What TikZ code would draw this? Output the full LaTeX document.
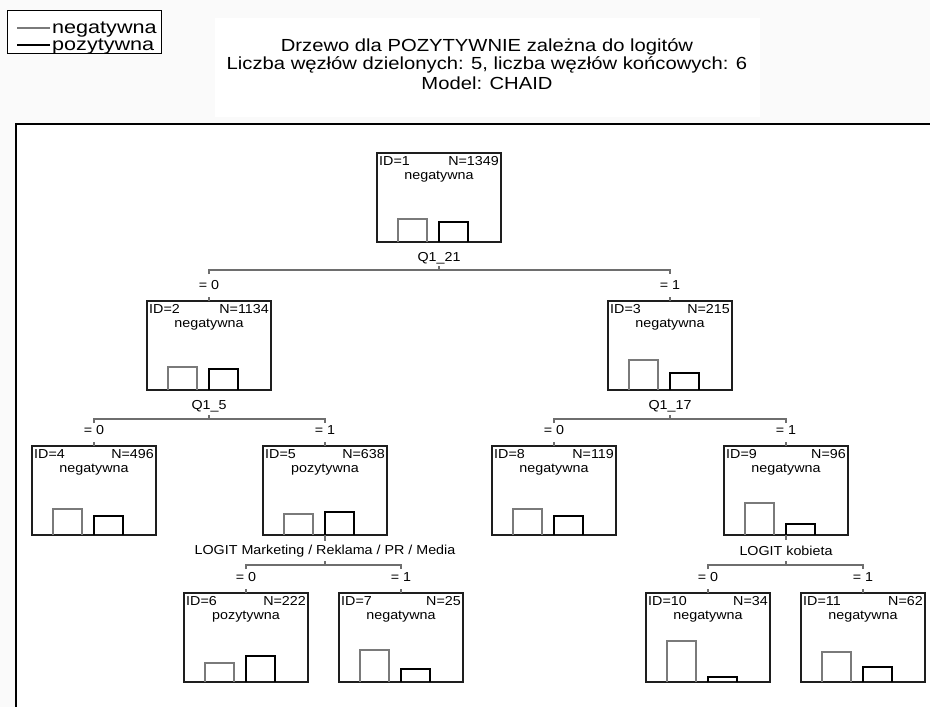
\documentclass[tikz,border=0pt]{standalone}
\usepackage{fontspec}
\setmainfont{Liberation Sans}
\usetikzlibrary{calc}

\definecolor{pagebg}{HTML}{FAFAFA}
\definecolor{boxline}{HTML}{1E1E1E}
\definecolor{splitline}{HTML}{6E6E6E}
\definecolor{negbar}{HTML}{7A7A7A}

% horizontally widened text
\newcommand\widetxt[2]{\scalebox{#1}[1]{#2}}
\newcommand\nt[1]{\widetxt{1.1}{#1}}

\tikzset{
  treebox/.style={draw=boxline, line width=1.8pt, fill=white,
    minimum width=124pt, minimum height=89pt, anchor=north west,
    inner sep=0pt, outer sep=0pt},
  txt/.style={font=\fontsize{13}{15}\selectfont, inner sep=0pt},
  split/.style={draw=splitline, line width=1.4pt},
  negline/.style={draw=negbar, line width=1.5pt},
  posline/.style={draw=black, line width=1.9pt},
  legtxt/.style={font=\fontsize{18}{20}\selectfont, anchor=base west, inner sep=0pt},
  titletxt/.style={font=\fontsize{17.5}{19}\selectfont, inner sep=0pt},
}

% tree node: name, left, top, id, n, class, negative bar height, positive bar height
\newcommand\tnode[8]{%
  \node[treebox] (#1) at (#2,#3) {};
  \node[txt, anchor=west] (#1id) at ($(#1.north west)+(2,8)$) {\nt{ID=#4}};
  \node[txt, anchor=east] (#1n) at ($(#1.north east)+(-2,8)$) {\nt{N=#5}};
  \node[txt] (#1cl) at ($(#1.north)+(0,24)$) {\nt{#6}};
  \draw[negline] ($(#1.south west)+(21,0)$) -- ++(0,-#7) -- ++(29,0) -- ++(0,#7);
  \draw[posline] ($(#1.south west)+(62,0)$) -- ++(0,-#8) -- ++(29,0) -- ++(0,#8);
}

% split: parent, left child, right child, split label, split line offset below parent
\newcommand\tsplit[5]{%
  \node[txt] (#1lab) at ($(#1.south)+(0,16)$) {\nt{#4}};
  \coordinate (#1j) at ($(#1.south)+(0,#5)$);
  \draw[split] (#1j) -- ++(0,-4);
  \draw[split] ($(#2.north |- #1j)+(0,4)$) -- (#2.north |- #1j)
    -- (#3.north |- #1j) -- ++(0,4);
  \node[txt] (#2eq) at ($(#2.north)+(0,-16)$) {\nt{= 0}};
  \node[txt] (#3eq) at ($(#3.north)+(0,-16)$) {\nt{= 1}};
  \draw[split] (#2.north) -- ++(0,-4);
  \draw[split] (#3.north) -- ++(0,-4);
}

\begin{document}
\begin{tikzpicture}[x=1pt, y=-1pt]
  \useasboundingbox (0,0) rectangle (930,707);
  \fill[pagebg] (0,0) rectangle (930,707);
  \fill[white] (16,124) rectangle (930,707);

  % legend
  \node[draw=black, line width=1.2pt, fill=white, minimum width=154pt,
    minimum height=43pt, anchor=north west, inner sep=0pt] (legend) at (7,10) {};
  \node[legtxt] (legneg) at (52,33) {\widetxt{1.2}{negatywna}};
  \node[legtxt] (legpos) at (52,50) {\widetxt{1.2}{pozytywna}};
  \draw[negline] (17,28) -- (50,28);
  \draw[posline] (17,45) -- (50,45);

  % title
  \node[fill=white, minimum width=545pt, minimum height=99pt, anchor=north west,
    inner sep=0pt] (titlebox) at (215,18) {};
  \node[titletxt] (title1) at (487,47)
    {\widetxt{1.155}{Drzewo dla POZYTYWNIE zależna do logitów}};
  \node[titletxt] (title2) at (487,65)
    {\widetxt{1.155}{Liczba węzłów dzielonych: 5, liczba węzłów końcowych: 6}};
  \node[titletxt] (title3) at (487,83)
    {\widetxt{1.155}{Model: CHAID}};

  % plot frame
  \draw[line width=2.5pt, black] (16,707) -- (16,124) -- (930,124);

  % nodes
  \tnode{n1}{377}{153}{1}{1349}{negatywna}{23}{20}
  \tnode{n2}{147}{301}{2}{1134}{negatywna}{23}{21}
  \tnode{n3}{608}{301}{3}{215}{negatywna}{30}{17}
  \tnode{n4}{32}{446}{4}{496}{negatywna}{26}{19}
  \tnode{n5}{263}{446}{5}{638}{pozytywna}{21}{23}
  \tnode{n8}{492}{446}{8}{119}{negatywna}{26}{19}
  \tnode{n9}{724}{446}{9}{96}{negatywna}{32}{11}
  \tnode{n6}{184}{593}{6}{222}{pozytywna}{19}{26}
  \tnode{n7}{339}{593}{7}{25}{negatywna}{32}{13}
  \tnode{n10}{646}{593}{10}{34}{negatywna}{41}{5}
  \tnode{n11}{801}{593}{11}{62}{negatywna}{30}{15}

  % splits
  \tsplit{n1}{n2}{n3}{Q1\_21}{28}
  \tsplit{n2}{n4}{n5}{Q1\_5}{29}
  \tsplit{n3}{n8}{n9}{Q1\_17}{29}
  \tsplit{n5}{n6}{n7}{LOGIT Marketing / Reklama / PR / Media}{30}
  \tsplit{n9}{n10}{n11}{LOGIT kobieta}{30}
  \draw[split] (n5.south) -- ++(0,6);
  \draw[split] (n9.south) -- ++(0,5);
\end{tikzpicture}
\end{document}
